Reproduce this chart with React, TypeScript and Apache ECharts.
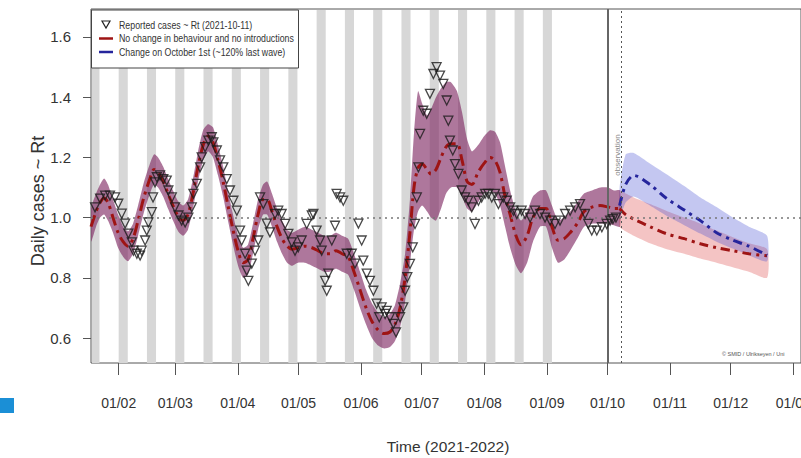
import React, { useEffect, useRef } from 'react';
import * as echarts from 'echarts';

// ---- axes ----
const tickDays = [31, 59, 90, 120, 151, 181, 212, 243, 273, 304, 334, 365];
const tickLabels = ['01/02', '01/03', '01/04', '01/05', '01/06', '01/07', '01/08', '01/09', '01/10', '01/11', '01/12', '01/01'];
const yTicks = [0.6, 0.8, 1.0, 1.2, 1.4, 1.6];

// ---- shaded periods (start day, days since 2021-01-01) ----
const stripeStarts = [17, 31, 45, 59, 73, 87, 101, 115, 129, 143, 157, 171, 185, 199, 213, 227, 241];
const stripeLength = 4.5;

// ---- reported cases ----
const caseDays = [
  19.3, 21.8, 24.3, 26.7, 29.2, 30.8, 32.5, 34.2, 35.8, 37.5, 38.3, 40.0, 41.6, 42.4, 44.1, 44.9, 45.7, 47.4, 48.0, 49.0,
  49.9, 51.5, 53.1, 54.8, 55.6, 57.3, 58.9, 60.6, 62.2, 63.9, 65.5, 67.2, 68.0, 69.7, 71.3, 72.1, 73.8, 75.4, 77.1, 77.9,
  79.6, 81.2, 82.8, 84.5, 86.1, 87.8, 89.5, 91.1, 91.9, 93.6, 94.4, 95.2, 96.9, 98.5, 100.1, 101.0, 102.6, 104.3, 105.9, 108.4,
  110.0, 111.7, 113.4, 115.0, 116.7, 118.3, 119.9, 121.6, 124.1, 126.6, 127.4, 129.0, 130.7, 131.5, 133.2, 134.0, 134.8, 136.5, 138.1, 138.9,
  140.6, 142.2, 143.9, 146.4, 148.0, 149.7, 151.3, 152.1, 153.8, 155.4, 157.1, 158.7, 160.0, 161.2, 162.9, 163.7, 165.3, 167.0, 168.3, 170.3,
  171.9, 172.8, 173.9, 175.2, 176.6, 177.7, 178.6, 179.4, 180.2, 181.8, 183.5, 185.1, 186.8, 188.4, 190.1, 191.7, 193.4, 194.2, 195.0, 196.4,
  197.5, 199.2, 200.8, 202.5, 204.1, 205.8, 207.4, 209.1, 210.7, 212.4, 214.0, 215.7, 217.3, 219.0, 221.4, 223.1, 224.8, 226.4, 228.1, 230.5,
  232.2, 234.7, 237.1, 239.6, 242.1, 244.6, 247.0, 249.5, 252.0, 254.5, 257.0, 259.4, 261.9, 263.5, 265.2, 267.7, 270.2, 272.6, 274.3, 275.7,
  277.2,
];
const caseRt = [
  1.034, 1.063, 1.073, 1.073, 1.067, 1.046, 1.013, 0.98, 0.947, 0.918, 0.89, 0.88, 0.874, 0.89, 0.924, 0.957, 0.984, 1.018, 1.067, 1.117,
  1.134, 1.14, 1.128, 1.123, 1.09, 1.067, 1.034, 1.007, 0.99, 0.984, 1.0, 1.034, 1.079, 1.112, 1.167, 1.2, 1.234, 1.256, 1.267, 1.25,
  1.223, 1.19, 1.167, 1.128, 1.09, 1.056, 1.023, 0.957, 0.924, 0.88, 0.824, 0.79, 0.847, 0.89, 0.924, 1.067, 1.045, 0.98, 0.951, 1.012,
  1.023, 1.012, 0.979, 0.946, 0.918, 0.89, 0.901, 0.924, 0.979, 1.007, 1.012, 0.957, 0.924, 0.89, 0.79, 0.757, 0.814, 0.924, 0.973, 1.079,
  1.067, 1.056, 0.88, 0.88, 0.847, 0.98, 0.924, 0.857, 0.814, 0.79, 0.757, 0.714, 0.669, 0.702, 0.68, 0.69, 0.669, 0.647, 0.619, 0.669,
  0.702, 0.757, 0.802, 0.846, 0.901, 0.979, 1.067, 1.167, 1.278, 1.355, 1.345, 1.411, 1.477, 1.5, 1.472, 1.444, 1.389, 1.322, 1.256, 1.223,
  1.178, 1.145, 1.09, 1.067, 1.056, 1.034, 0.979, 1.056, 1.067, 1.079, 1.079, 1.067, 1.079, 1.045, 1.067, 1.056, 1.034, 1.023, 1.012, 1.023,
  1.012, 1.0, 1.023, 1.012, 1.0, 0.99, 0.979, 0.99, 1.012, 1.023, 1.034, 1.045, 1.012, 0.979, 0.957, 0.957, 0.968, 0.979, 0.99, 0.995,
  1.0,
];

// ---- fitted model (no change), historical part ----
const histDays = [
  17.3, 19.8, 21.8, 23.8, 25.7, 28.2, 30.7, 33.2, 35.6, 38.1,
  40.6, 43.6, 46.5, 48.5, 50.5, 53.0, 55.4, 57.9, 60.4, 62.9,
  65.3, 67.8, 70.3, 72.8, 75.2, 77.7, 80.2, 82.7, 85.1, 87.6,
  90.1, 92.6, 95.0, 97.5, 100.0, 102.5, 104.5, 106.9, 109.4, 111.9,
  114.4, 116.8, 119.8, 123.3, 126.7, 129.7, 132.7, 135.6, 138.6, 141.6,
  144.6, 147.5, 150.5, 153.5, 156.4, 159.4, 162.4, 165.3, 167.8, 170.3,
  172.8, 175.2, 177.2, 179.2, 181.2, 183.7, 185.6, 188.1, 190.6, 193.1,
  195.5, 198.5, 201.0, 203.5, 205.9, 208.9, 211.9, 214.9, 217.3, 219.8,
  222.3, 224.8, 227.7, 230.2, 233.2, 236.1, 239.6, 242.6, 245.5, 248.5,
  251.5, 254.5, 258.0, 261.4, 265.3, 269.3, 273.3, 276.2, 279.2,
];
const histMid = [
  0.97, 1.02, 1.05, 1.065, 1.05, 1.0, 0.95, 0.92, 0.905, 0.93,
  0.99, 1.07, 1.13, 1.16, 1.15, 1.12, 1.08, 1.04, 1.005, 0.99,
  1.01, 1.08, 1.17, 1.24, 1.27, 1.25, 1.19, 1.12, 1.04, 0.96,
  0.89, 0.85, 0.86, 0.93, 1.01, 1.06, 1.06, 1.02, 0.97, 0.93,
  0.905, 0.895, 0.9, 0.905, 0.9, 0.89, 0.88, 0.88, 0.89, 0.88,
  0.87, 0.82, 0.76, 0.70, 0.655, 0.627, 0.615, 0.62, 0.645, 0.70,
  0.80, 0.95, 1.10, 1.165, 1.178, 1.16, 1.145, 1.16, 1.20, 1.235,
  1.245, 1.245, 1.19, 1.12, 1.11, 1.15, 1.18, 1.20, 1.19, 1.15,
  1.07, 1.01, 0.94, 0.91, 0.94, 1.0, 1.03, 1.03, 0.97, 0.925,
  0.93, 0.95, 0.98, 1.02, 1.035, 1.04, 1.035, 1.03, 1.03,
];
const histLow = [
  0.92, 0.97, 1.0, 1.01, 0.99, 0.95, 0.9, 0.87, 0.855, 0.88,
  0.94, 1.02, 1.08, 1.11, 1.1, 1.07, 1.03, 0.99, 0.955, 0.94,
  0.96, 1.03, 1.12, 1.19, 1.22, 1.2, 1.14, 1.07, 0.99, 0.91,
  0.84, 0.8, 0.81, 0.88, 0.96, 1.01, 1.01, 0.97, 0.92, 0.88,
  0.85, 0.84, 0.85, 0.85, 0.84, 0.83, 0.82, 0.82, 0.83, 0.82,
  0.81, 0.76, 0.7, 0.645, 0.6, 0.575, 0.565, 0.57, 0.59, 0.635,
  0.72, 0.85, 0.96, 1.02, 1.04, 1.02, 1.0, 0.99, 1.03, 1.08,
  1.1, 1.1, 1.07, 1.03, 1.02, 1.05, 1.08, 1.09, 1.08, 1.04,
  0.97, 0.9, 0.84, 0.815, 0.85, 0.92, 0.97, 0.97, 0.9, 0.85,
  0.86, 0.89, 0.93, 0.97, 0.98, 0.98, 0.98, 0.975, 0.97,
];
const histHigh = [
  1.03, 1.08, 1.11, 1.13, 1.11, 1.06, 1.01, 0.97, 0.955, 0.98,
  1.04, 1.12, 1.18, 1.21, 1.2, 1.17, 1.13, 1.09, 1.055, 1.04,
  1.06, 1.13, 1.22, 1.29, 1.31, 1.3, 1.24, 1.17, 1.09, 1.01,
  0.94, 0.9, 0.91, 0.98, 1.06, 1.11, 1.12, 1.08, 1.03, 0.99,
  0.96, 0.95, 0.96, 0.97, 0.96, 0.95, 0.94, 0.94, 0.95, 0.94,
  0.93, 0.88, 0.82, 0.76, 0.715, 0.685, 0.67, 0.68, 0.71, 0.78,
  0.88, 1.06, 1.28, 1.42, 1.38, 1.34, 1.36, 1.4, 1.43, 1.45,
  1.45, 1.42, 1.35, 1.26, 1.22, 1.24, 1.27, 1.29, 1.285, 1.25,
  1.17, 1.09, 1.02, 0.99, 1.02, 1.07, 1.09, 1.09, 1.04, 0.99,
  1.0, 1.02, 1.05, 1.08, 1.09, 1.1, 1.1, 1.09, 1.09,
];

// ---- projections ----
const fcDays = [279, 282, 286, 294, 302, 311, 319, 327, 335, 343, 352];
const noChangeMid = [1.03, 1.01, 0.995, 0.97, 0.947, 0.93, 0.913, 0.9, 0.89, 0.88, 0.873];
const noChangeLow = [0.97, 0.955, 0.94, 0.915, 0.896, 0.88, 0.864, 0.85, 0.835, 0.82, 0.8];
const noChangeHigh = [1.09, 1.08, 1.067, 1.045, 1.023, 1.0, 0.98, 0.957, 0.935, 0.915, 0.895];
const octMid = [1.04, 1.11, 1.14, 1.11, 1.065, 1.025, 0.99, 0.95, 0.925, 0.905, 0.875];
const octLow = [1.0, 1.05, 1.07, 1.04, 1.007, 0.975, 0.947, 0.92, 0.897, 0.875, 0.855];
const octHigh = [1.1, 1.21, 1.215, 1.18, 1.145, 1.105, 1.067, 1.035, 1.0, 0.97, 0.94];

const refRt = 1.0;
const lastReportDay = 273;
const observationDay = 280;

const RED = '#9e1414';
const BLUE = '#25259c';
const FONT = "'Liberation Sans', Arial, sans-serif";
const NARROW = "'Liberation Sans Narrow', 'Arial Narrow', 'Liberation Sans', Arial, sans-serif";

function band(name: string, days: number[], lo: number[], hi: number[], fill: string, z: number) {
  return {
    type: 'custom',
    name,
    z,
    silent: true,
    clip: true,
    data: days.map((d, i) => [d, lo[i], hi[i]]),
    encode: { x: 0, y: [1, 2] },
    renderItem: (params: any, api: any) => {
      if (params.dataIndex !== 0) return null;
      const upper = days.map((d, i) => api.coord([d, hi[i]]));
      const lower = days.map((d, i) => api.coord([d, lo[i]])).reverse();
      return { type: 'polygon', shape: { points: upper.concat(lower), smooth: 0.2 }, style: { fill } };
    },
  };
}

function legendText(text: string, y: number) {
  return {
    type: 'text', x: 119, y, z: 101, scaleX: 0.84,
    style: { text, fill: '#333', fontSize: 10.5, fontFamily: FONT, verticalAlign: 'middle', align: 'left' },
  };
}

const option: any = {
  animation: false,
  backgroundColor: '#fff',
  grid: {
    left: 91, top: 9, right: 0, bottom: 95,
    containLabel: false,
    outerBoundsMode: 'none',
    show: true, borderColor: '#555', borderWidth: 1, backgroundColor: 'transparent',
  },
  xAxis: {
    type: 'value',
    min: 17.3,
    max: 368.8,
    axisLine: { show: false },
    splitLine: { show: false },
    axisTick: { show: true, customValues: tickDays, length: 12, lineStyle: { color: '#555' } },
    axisLabel: {
      customValues: tickDays,
      margin: 33,
      color: '#333',
      fontSize: 14,
      fontFamily: NARROW,
      formatter: (v: number) => tickLabels[tickDays.indexOf(v)] ?? '',
    },
  },
  yAxis: {
    type: 'value',
    min: 0.517,
    max: 1.693,
    axisLine: { show: false },
    splitLine: { show: false },
    axisTick: { show: true, customValues: yTicks, length: 8, lineStyle: { color: '#555' } },
    axisLabel: {
      customValues: yTicks,
      margin: 20,
      color: '#333',
      fontSize: 15,
      fontFamily: NARROW,
      formatter: (v: number) => v.toFixed(1),
    },
  },
  series: [
    {
      type: 'custom',
      name: 'stripes',
      z: 1,
      silent: true,
      clip: true,
      data: stripeStarts.map((s) => [s, s + stripeLength]),
      encode: { x: [0, 1] },
      renderItem: (params: any, api: any) => {
        const cs = params.coordSys;
        const x0 = Math.max(api.coord([api.value(0), 1])[0], cs.x + 1);
        const x1 = api.coord([api.value(1), 1])[0];
        return { type: 'rect', shape: { x: x0, y: cs.y + 1, width: x1 - x0, height: cs.height - 1 }, style: { fill: '#d7d7d7' } };
      },
    },
    band('history band', histDays, histLow, histHigh, 'rgba(125,35,95,0.62)', 2),
    band('no change band', fcDays, noChangeLow, noChangeHigh, 'rgba(220,60,60,0.3)', 2),
    band('october band', fcDays, octLow, octHigh, 'rgba(60,70,210,0.3)', 2),
    {
      type: 'line',
      name: 'No change in behaviour and no introductions',
      z: 4,
      data: histDays.map((d, i) => [d, histMid[i]]),
      symbol: 'none',
      smooth: 0.3,
      lineStyle: { color: RED, width: 3, type: [12, 5, 3, 5] },
      markLine: {
        silent: true,
        symbol: ['none', 'none'],
        label: { show: false },
        data: [
          { yAxis: refRt, lineStyle: { color: '#777', width: 1.5, type: [2, 4] } },
          { xAxis: lastReportDay, lineStyle: { color: '#666', width: 2, type: 'solid' } },
          { xAxis: observationDay, lineStyle: { color: '#555', width: 1, type: [2, 3] } },
        ],
      },
    },
    {
      type: 'line',
      name: 'no change projection',
      z: 4,
      data: fcDays.map((d, i) => [d, noChangeMid[i]]),
      symbol: 'none',
      smooth: 0.3,
      lineStyle: { color: RED, width: 3, type: [9, 5, 3, 5] },
    },
    {
      type: 'line',
      name: 'Change on October 1st',
      z: 4,
      data: fcDays.map((d, i) => [d, octMid[i]]),
      symbol: 'none',
      smooth: 0.3,
      lineStyle: { color: BLUE, width: 3, type: [9, 5, 3, 5] },
    },
    {
      type: 'scatter',
      name: 'Reported cases ~ Rt',
      z: 5,
      data: caseDays.map((d, i) => [d, caseRt[i]]),
      symbol: 'triangle',
      symbolRotate: 180,
      symbolSize: 9,
      itemStyle: { color: 'rgba(0,0,0,0)', borderColor: '#1a1a1a', borderWidth: 1.3 },
    },
  ],
  graphic: [
    { type: 'rect', z: 100, shape: { x: 91.5, y: 10, width: 207, height: 58 }, style: { fill: '#fff', stroke: '#444', lineWidth: 1 } },
    { type: 'polygon', z: 101, shape: { points: [[102, 21], [110, 21], [106, 28]] }, style: { fill: 'none', stroke: '#222', lineWidth: 1.2 } },
    { type: 'line', z: 101, shape: { x1: 99, y1: 38.5, x2: 113, y2: 38.5 }, style: { stroke: RED, lineWidth: 2.5 } },
    { type: 'line', z: 101, shape: { x1: 99, y1: 52, x2: 113, y2: 52 }, style: { stroke: BLUE, lineWidth: 2.5 } },
    legendText('Reported cases ~ Rt (2021-10-11)', 25),
    legendText('No change in behaviour and no introductions', 38.5),
    legendText('Change on October 1st (~120% last wave)', 52),
    {
      type: 'text', x: 38, y: 201, rotation: Math.PI / 2, z: 50,
      style: { text: 'Daily cases ~ Rt', fill: '#333', fontSize: 18, fontFamily: FONT, align: 'center', verticalAlign: 'middle' },
    },
    {
      type: 'text', x: 448, y: 446, z: 50,
      style: { text: 'Time (2021-2022)', fill: '#333', fontSize: 15.5, fontFamily: FONT, align: 'center', verticalAlign: 'middle' },
    },
    {
      type: 'text', x: 617, y: 155, rotation: Math.PI / 2, z: 50,
      style: { text: 'observation', fill: '#888', fontSize: 8, fontFamily: FONT, align: 'center', verticalAlign: 'middle' },
    },
    {
      type: 'text', x: 722, y: 354, z: 50,
      style: { text: '© SMID / Ulrikseyen / Uni', fill: '#555', fontSize: 5.5, fontFamily: FONT, align: 'left', verticalAlign: 'middle' },
    },
    { type: 'rect', z: 50, shape: { x: 0, y: 398, width: 14, height: 15 }, style: { fill: '#1b8fd6' } },
  ],
};

export default function App() {
  const ref = useRef<HTMLDivElement>(null);
  useEffect(() => {
    if (!ref.current) return;
    const chart = echarts.init(ref.current, null, { renderer: 'svg' });
    chart.setOption(option);
    return () => chart.dispose();
  }, []);
  return (
    <div
      ref={ref}
      style={{ position: 'absolute', left: 0, top: 0, width: 801, height: 458, background: '#fff' }}
    />
  );
}
